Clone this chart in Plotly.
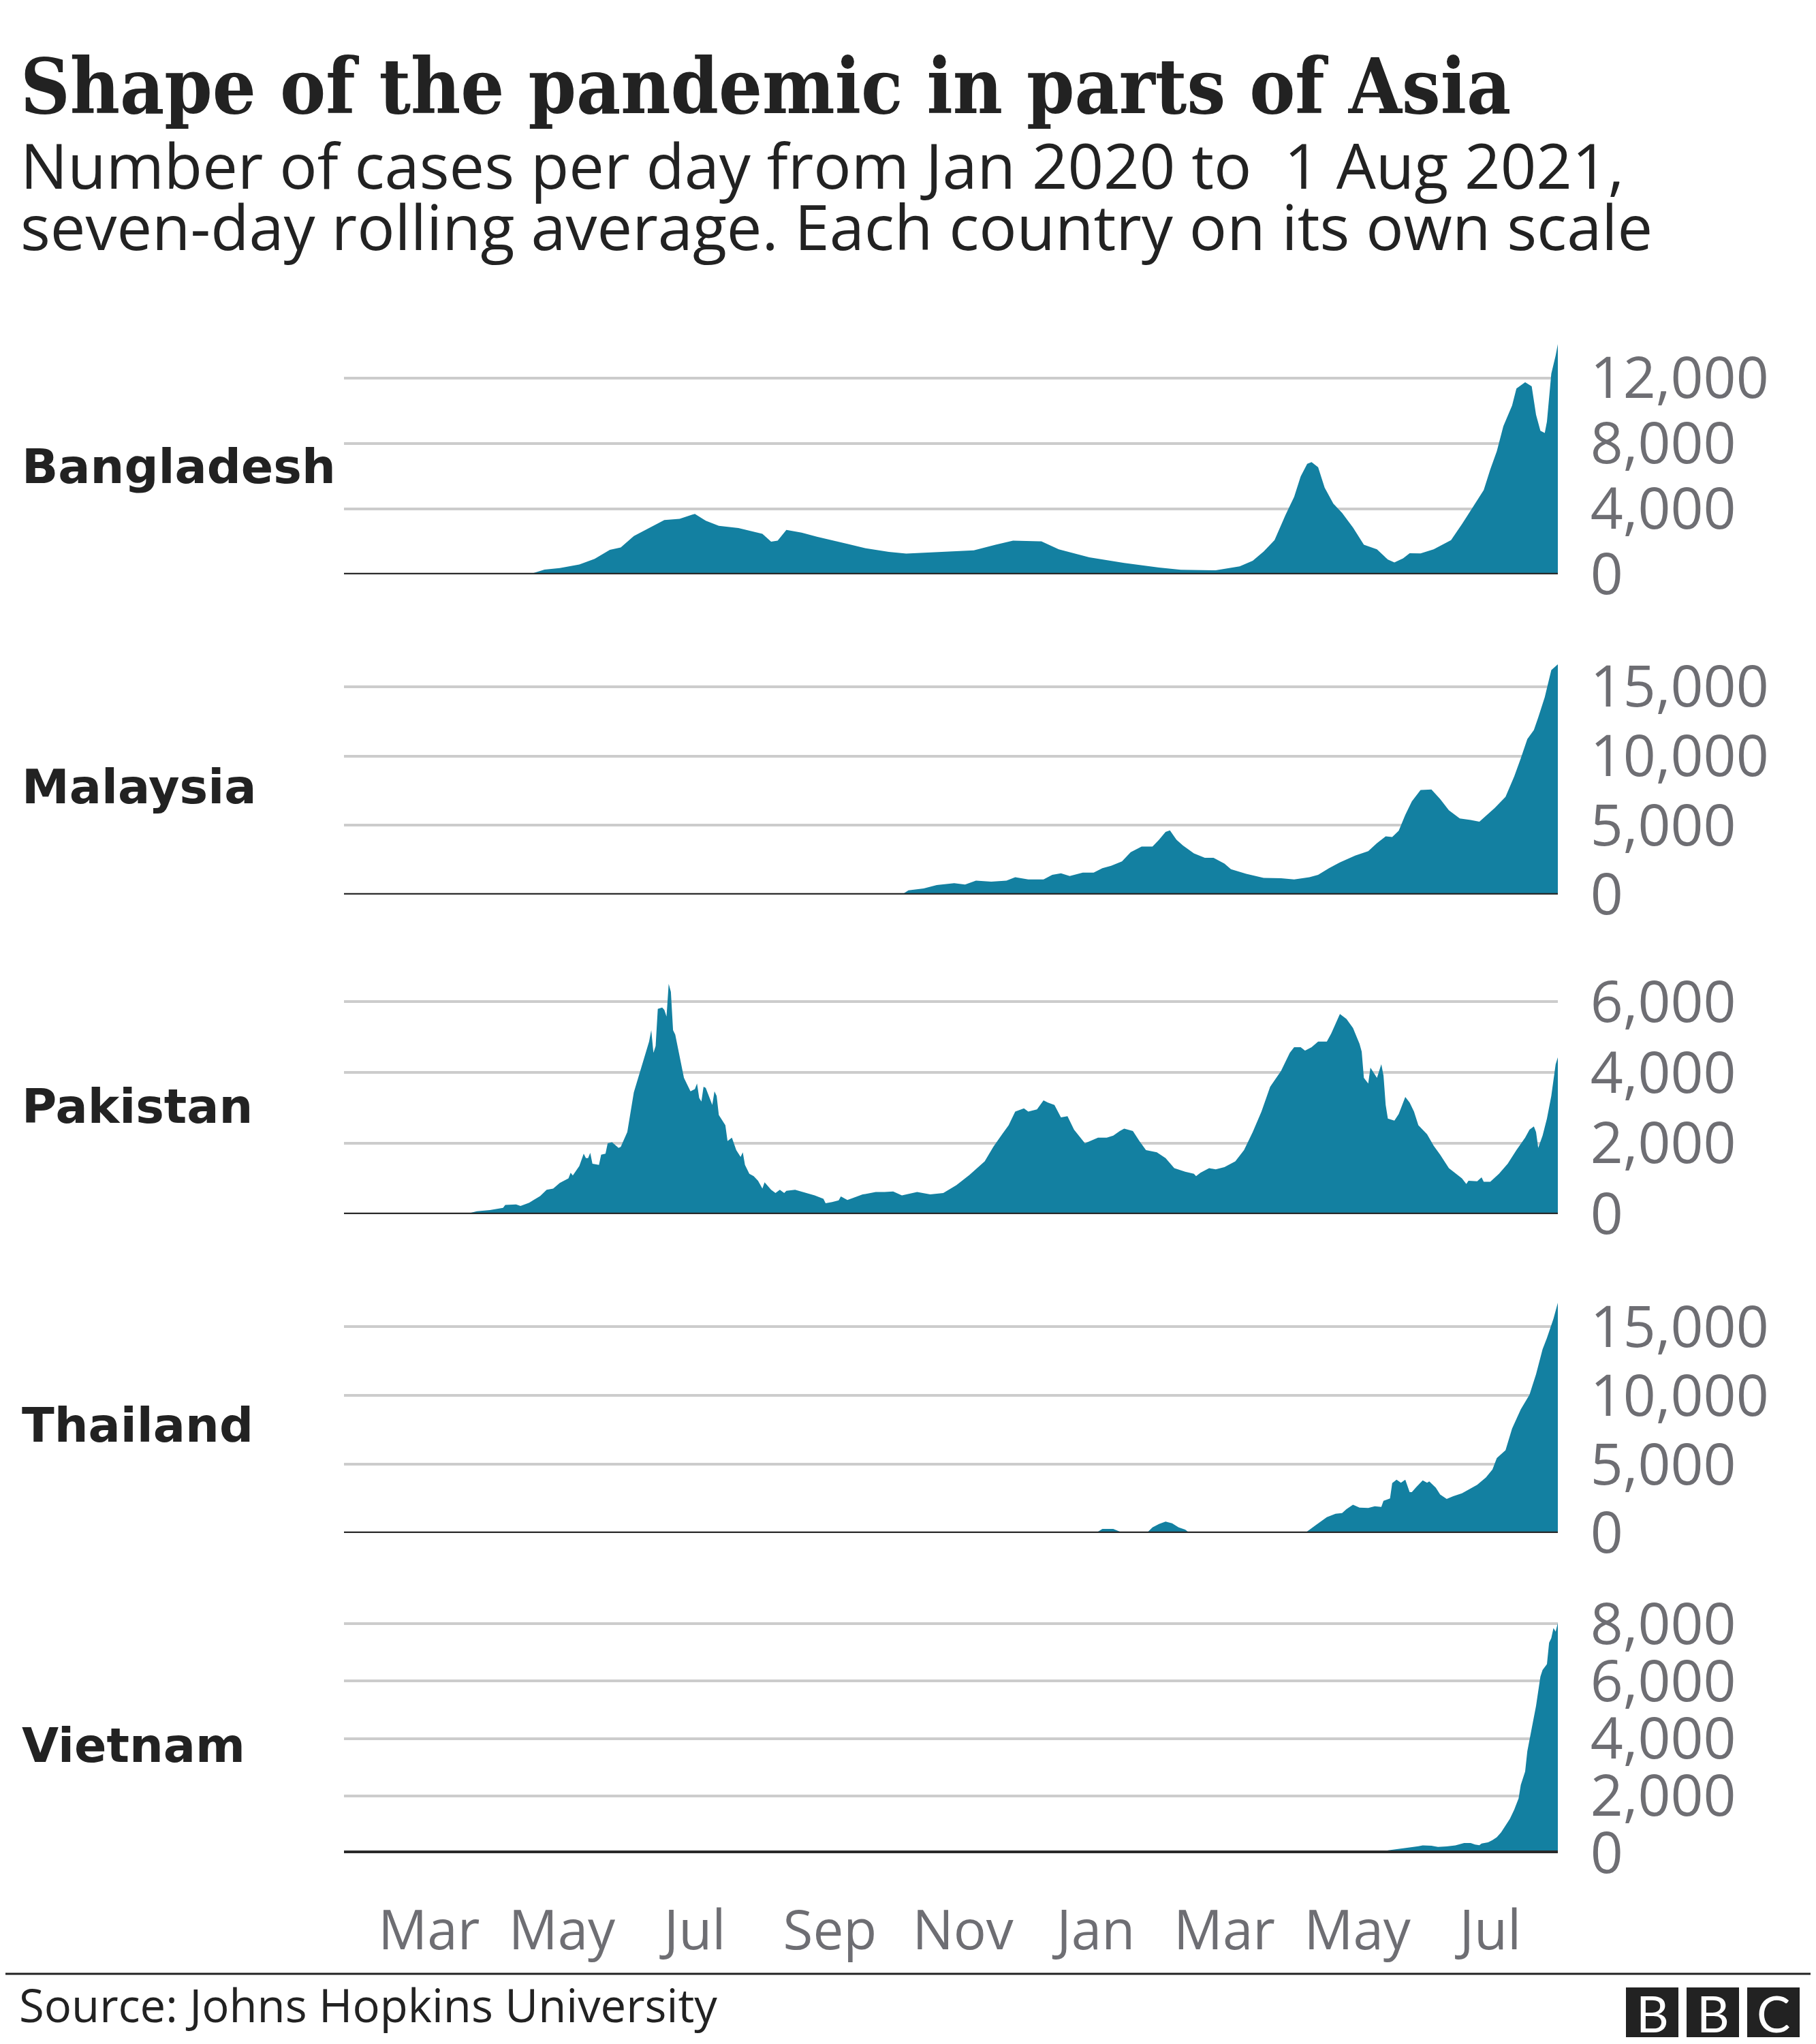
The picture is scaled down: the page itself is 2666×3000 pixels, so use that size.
import plotly.graph_objects as go
import pandas as pd

# ---------------- data (x = days since 22 Jan 2020, y = 7-day avg cases) -------------
START = "2020-01-22"
END = "2021-08-01"

bgd_day = [0, 85, 92, 99, 108, 115, 122, 127, 133, 140, 147, 154, 161, 166, 172, 181, 188, 192, 196, 199,
           203, 210, 217, 224, 231, 240, 250, 258, 267, 275, 289, 299, 307, 320, 328, 342, 358, 374, 384, 400,
           411, 417, 422, 427, 432, 436, 439, 442, 444, 447, 450, 454, 458, 463, 468, 474, 479, 482, 486, 489,
           494, 500, 505, 508, 513, 519, 523, 526, 529, 532, 536, 538, 542, 545, 547, 549, 551, 552, 554, 556, 557]
bgd_val = [0, 0, 290, 390, 600, 950, 1500, 1650, 2345, 2830, 3320, 3390, 3700, 3280, 2970, 2830, 2620, 2480, 2000, 2065,
           2720, 2550, 2300, 2065, 1860, 1580, 1370, 1270, 1330, 1370, 1464, 1810, 2063, 2020, 1530, 1045, 697, 418, 280, 250,
           490, 836, 1394, 2090, 3620, 4740, 5990, 6760, 6860, 6550, 5300, 4320, 3760, 2860, 1810, 1530, 906, 725, 976, 1296,
           1282, 1530, 1880, 2090, 3067, 4320, 5160, 6410, 7530, 9060, 10320, 11360, 11750, 11500, 9760, 8780, 8640, 9340,
           12270, 13380, 14080]

mys_day = [0, 256, 259, 266, 272, 280, 285, 290, 297, 304, 308, 314, 321, 325, 329, 333, 339, 344, 348, 352,
           357, 361, 366, 371, 374, 377, 379, 382, 385, 390, 395, 399, 404, 407, 414, 422, 430, 436, 443, 447,
           452, 457, 464, 470, 474, 478, 481, 484, 487, 490, 494, 499, 503, 507, 512, 517, 521, 524, 528, 533,
           537, 540, 543, 546, 548, 551, 554, 557]
mys_val = [0, 0, 310, 440, 690, 820, 720, 1010, 930, 1010, 1260, 1095, 1095, 1420, 1535, 1340, 1585, 1585, 1910, 2075,
           2400, 3055, 3465, 3465, 3955, 4525, 4640, 3955, 3545, 2975, 2650, 2650, 2240, 1830, 1500, 1210, 1175, 1095, 1260, 1420,
           1910, 2320, 2810, 3137, 3710, 4200, 4150, 4610, 5750, 6730, 7550, 7580, 6900, 6080, 5500, 5390, 5260, 5670, 6240, 7060,
           8530, 9840, 11225, 11880, 12780, 14250, 16200, 16620]

pak_day = [0, 55, 57, 61, 67, 73, 74, 79, 81, 85, 87, 90, 93, 96, 99, 103, 104, 105, 108, 110,
           111, 112, 113, 114, 117, 118, 120, 121, 123, 126, 127, 130, 133, 136, 138, 140, 141, 142, 143, 144,
           146, 147, 148, 149, 150, 151, 152, 154, 156, 159, 161, 162, 163, 164, 165, 166, 169, 170, 171, 172,
           175, 176, 178, 180, 182, 183, 184, 186, 188, 190, 192, 193, 196, 198, 200, 202, 203, 207, 212, 216,
           220, 221, 224, 227, 228, 231, 234, 238, 240, 244, 248, 252, 256, 263, 269, 275, 281, 287, 294, 298,
           302, 305, 308, 312, 314, 318, 321, 323, 326, 329, 332, 335, 340, 346, 350, 353, 356, 358, 362, 365,
           368, 373, 377, 381, 386, 390, 391, 393, 397, 400, 404, 409, 413, 417, 421, 425, 430, 434, 436, 439,
           441, 444, 447, 451, 453, 455, 457, 460, 463, 466, 467, 468, 470, 471, 474, 476, 477, 478, 479, 482,
           484, 487, 489, 491, 493, 497, 500, 503, 507, 511, 513, 515, 516, 520, 522, 523, 526, 530, 534, 538,
           542, 544, 546, 547, 548, 550, 552, 554, 556, 557]
pak_val = [0, 0, 20, 83, 115, 180, 262, 275, 230, 320, 400, 510, 690, 720, 880, 1010, 1170, 1090, 1360, 1710,
           1585, 1585, 1730, 1425, 1390, 1680, 1710, 2000, 2030, 1870, 1900, 2320, 3440, 4045, 4460, 4875, 5195, 4555, 4750, 5800,
           5835, 5770, 5580, 6505, 6280, 5195, 5070, 4430, 3850, 3470, 3530, 3690, 3280, 3180, 3600, 3565, 3085, 3470, 3340, 2800,
           2510, 2065, 2160, 1810, 1615, 1745, 1390, 1140, 1075, 945, 720, 900, 690, 595, 690, 595, 660, 690, 595, 530,
           435, 307, 340, 390, 500, 400, 465, 560, 575, 625, 625, 640, 530, 625, 560, 595, 820, 1105, 1490, 1905,
           2255, 2510, 2895, 2990, 2895, 2960, 3215, 3150, 3085, 2735, 2765, 2385, 2000, 2160, 2160, 2220, 2350, 2415, 2350, 2065,
           1810, 1745, 1585, 1300, 1200, 1140, 1075, 1170, 1300, 1265, 1330, 1490, 1810, 2320, 2895, 3600, 4045, 4555, 4715, 4715,
           4620, 4715, 4875, 4875, 5100, 5385, 5655, 5515, 5260, 4810, 4590, 3850, 3690, 4140, 3850, 4235, 3915, 3085, 2700, 2640,
           2830, 3310, 3150, 2895, 2510, 2255, 1935, 1680, 1300, 1105, 1010, 850, 945, 930, 1040, 915, 915, 1140, 1425, 1810,
           2160, 2385, 2480, 2320, 1870, 2220, 2700, 3340, 4235, 4430]

tha_day = [0, 345, 348, 353, 356, 360, 364, 369, 371, 374, 377, 380, 383, 386, 388, 441, 446, 451, 455, 458,
           460, 463, 466, 470, 473, 476, 477, 480, 481, 483, 485, 487, 489, 490, 492, 495, 497, 498, 501, 503,
           506, 509, 513, 517, 520, 524, 527, 529, 533, 536, 540, 544, 547, 550, 552, 555, 557]
tha_val = [0, 0, 300, 300, 100, 100, 50, 100, 410, 660, 825, 710, 410, 250, 0, 0, 580, 1155, 1400, 1450,
           1730, 2060, 1850, 1815, 1950, 1900, 2340, 2510, 3630, 3880, 3660, 3880, 2970, 2970, 3330, 3830, 3660, 3760, 3300, 2800,
           2475, 2670, 2890, 3220, 3500, 4040, 4620, 5445, 6020, 7590, 9000, 10065, 11550, 13365, 14190, 15590, 16750]

vnm_day = [0, 478, 479, 483, 489, 493, 495, 499, 502, 506, 510, 514, 517, 519, 521, 522, 525, 527, 529, 531,
           533, 535, 537, 539, 540, 542, 543, 545, 547, 549, 550, 552, 553, 554, 555, 556, 557]
vnm_val = [0, 0, 100, 135, 200, 245, 275, 260, 220, 235, 275, 355, 355, 300, 280, 340, 380, 455, 560, 730,
           970, 1200, 1520, 1910, 2380, 2850, 3560, 4350, 5135, 6160, 6390, 6590, 7340, 7500, 7850, 7730, 8030]

countries = ["Bangladesh", "Malaysia", "Pakistan", "Thailand", "Vietnam"]
series_days = [bgd_day, mys_day, pak_day, tha_day, vnm_day]
series_vals = [bgd_val, mys_val, pak_val, tha_val, vnm_val]
tick_sets = [[0, 4000, 8000, 12000],
             [0, 5000, 10000, 15000],
             [0, 2000, 4000, 6000],
             [0, 5000, 10000, 15000],
             [0, 2000, 4000, 6000, 8000]]

month_ticks = ["2020-03-01", "2020-05-01", "2020-07-01", "2020-09-01", "2020-11-01",
               "2021-01-01", "2021-03-01", "2021-05-01", "2021-07-01"]
month_labels = ["Mar", "May", "Jul", "Sep", "Nov", "Jan", "Mar", "May", "Jul"]

# ---------------- styling / layout ----------------
W, H = 2666, 3000
OFF = 8                         # page offset of the plot div (body margin)
PL, PR = 505, 2287              # plot area left/right in page px
BASES = [843, 1313, 1782, 2250, 2720]   # page px of each panel's zero line
BASE_W = [4.5, 4.5, 4.5, 4.5, 8]
PANEL_H = 338
TEAL = "#1380A1"
DARK = "#222222"
GREY = "#6e6e73"
SANS = "Open Sans, Noto Sans, sans-serif"


def px2x(px):
    return (px - PL) / (PR - PL)


def py2y(py):
    return 1 - (py - OFF) / H


fig = go.Figure()
layout = {}
shapes = []
annotations = []
start_ts = pd.Timestamp(START)

for i, (name, days, vals, ticks) in enumerate(zip(countries, series_days, series_vals, tick_sets)):
    yref = "y" if i == 0 else f"y{i + 1}"
    ykey = "yaxis" if i == 0 else f"yaxis{i + 1}"
    xs = (start_ts + pd.to_timedelta(days, unit="D")).strftime("%Y-%m-%d").tolist()
    fig.add_trace(go.Scatter(
        x=xs, y=vals, mode="lines", line=dict(width=0, color=TEAL),
        fill="tozeroy", fillcolor=TEAL, xaxis="x", yaxis=yref,
        hoverinfo="skip", showlegend=False))
    base = BASES[i]
    layout[ykey] = dict(
        domain=[py2y(base), py2y(base - PANEL_H)],
        range=[0, max(vals)], side="right", anchor="x",
        tickvals=ticks, tickformat=",d",
        showgrid=True, gridcolor="#cccccc", gridwidth=3.5,
        zeroline=False, showline=False, automargin=False,
        ticks="outside", ticklen=30, tickcolor="rgba(0,0,0,0)",
        tickfont=dict(family=SANS, size=84, color=GREY),
        fixedrange=True)
    shapes.append(dict(type="line", xref="paper", x0=0, x1=1, yref=yref, y0=0, y1=0,
                       line=dict(color="#2a2a2a", width=BASE_W[i]), layer="above"))
    annotations.append(dict(text=f"<b>{name}</b>", xref="paper", yref="paper",
                            x=px2x(30), y=py2y(base - 158), xanchor="left", yanchor="middle",
                            showarrow=False,
                            font=dict(family="DejaVu Sans, sans-serif", size=70, color=DARK)))

layout["xaxis"] = dict(
    domain=[0, 1], anchor="y5", type="date", range=[START, END],
    tickvals=month_ticks, ticktext=month_labels,
    showgrid=False, zeroline=False, showline=False, automargin=False,
    ticks="outside", ticklen=44, tickcolor="rgba(0,0,0,0)",
    tickfont=dict(family=SANS, size=80, color=GREY), fixedrange=True)

# Title and subtitle
annotations.append(dict(text="<b>Shape of the pandemic in parts of Asia</b>", xref="paper", yref="paper",
                        x=px2x(28), y=py2y(127), xanchor="left", yanchor="middle", showarrow=False,
                        font=dict(family="DejaVu Serif Condensed, DejaVu Serif, serif", size=112, color=DARK)))
annotations.append(dict(text="Number of cases per day from Jan 2020 to  1 Aug 2021,", xref="paper", yref="paper",
                        x=px2x(28), y=py2y(242), xanchor="left", yanchor="middle", showarrow=False,
                        font=dict(family=SANS, size=92, color=DARK)))
annotations.append(dict(text="seven-day rolling average. Each country on its own scale", xref="paper", yref="paper",
                        x=px2x(28), y=py2y(331), xanchor="left", yanchor="middle", showarrow=False,
                        font=dict(family=SANS, size=92, color=DARK)))

# Footer
shapes.append(dict(type="line", xref="paper", yref="paper", x0=px2x(0), x1=px2x(W + 20),
                   y0=py2y(2897), y1=py2y(2897), line=dict(color="#222222", width=3)))
annotations.append(dict(text="Source: Johns Hopkins University", xref="paper", yref="paper",
                        x=px2x(26), y=py2y(2942), xanchor="left", yanchor="middle", showarrow=False,
                        font=dict(family=SANS, size=67, color=DARK)))
for x0, letter in zip([2387, 2476, 2565], ["B", "B", "C"]):
    shapes.append(dict(type="rect", xref="paper", yref="paper",
                       x0=px2x(x0), x1=px2x(x0 + 77), y0=py2y(2990), y1=py2y(2917),
                       fillcolor="#222222", line=dict(width=0)))
    annotations.append(dict(text=letter, xref="paper", yref="paper",
                            x=px2x(x0 + 38.5), y=py2y(2954), xanchor="center", yanchor="middle",
                            showarrow=False, font=dict(family="Lato, sans-serif", size=74, color="white")))

fig.update_layout(
    width=W, height=H, autosize=False,
    margin=dict(l=PL - OFF, r=W - (PR - OFF), t=0, b=0, pad=0, autoexpand=False),
    paper_bgcolor="white", plot_bgcolor="white",
    shapes=shapes, annotations=annotations, showlegend=False,
    **layout)

fig.write_html("out.html")
